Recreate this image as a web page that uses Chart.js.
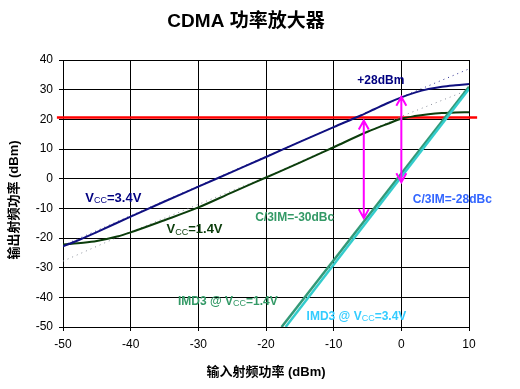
<!DOCTYPE html>
<html>
<head>
<meta charset="utf-8">
<script src="https://cdn.jsdelivr.net/npm/chart.js@4/dist/chart.umd.min.js"></script>
<style>
html,body{margin:0;padding:0;background:#fff;}
#c{display:block;}
</style>
</head>
<body>
<canvas id="c" width="520" height="389"></canvas>
<script>
// ---- data ----
const titleText = 'CDMA 功率放大器';
const xTitle = '输入射频功率 (dBm)';
const yTitle = '输出射频功率 (dBm)';

const pinVcc34 = [-50,-48,-45,-40,-35,-30,-25,-20,-15,-10,-6,-4,-2,0,2,4,6,8,10];
const poutVcc34 = [-22.8,-21.0,-18.0,-12.8,-7.7,-2.7,2.3,7.3,12.4,17.4,21.3,23.4,25.5,27.4,29.0,30.2,31.0,31.5,31.9];

const pinVcc14 = [-50,-47,-45,-42,-40,-35,-30,-25,-20,-15,-10,-5,-2,0,2,4,6,8,10];
const poutVcc14 = [-22.2,-21.6,-21.0,-19.5,-18.1,-14.0,-9.7,-4.6,0.4,5.4,10.6,15.8,18.5,20.2,21.1,21.7,22.1,22.3,22.4];

const pinLin34 = [-50,0,10];
const poutLin34 = [-22.5,27.5,37.0];

const pinLin14 = [-50,-42,-20,0,10];
const poutLin14 = [-27.8,-19.8,0.6,21.0,30.0];

const pinImd14 = [-17.7,10];
const imd14 = [-50,31.0];

const pinImd34 = [-17.1,10];
const imd34 = [-50,30.2];

const limitX = [-50.9,11.2];
const limitY = [20.6,20.6];

const arrowX = [-5.55,0];
const arrowTop = [19.6,27.6];
const arrowBottom = [-13.3,-1.2];

const xMin = -50, xMax = 10, xStep = 10;
const yMin = -50, yMax = 40, yStep = 5;

function pts(xs, ys){ return xs.map((x,i)=>({x:x,y:ys[i]})); }

const LATIN = "'Liberation Sans', Arial, 'Noto Sans CJK SC', sans-serif";

const annot = {
  id:'annot',
  afterDatasetsDraw(chart){
    const ctx = chart.ctx, xs = chart.scales.x, ys = chart.scales.y;
    const X = v => xs.getPixelForValue(v), Y = v => ys.getPixelForValue(v);
    ctx.save();
    // arrows
    ctx.strokeStyle = '#ff00ff';
    ctx.lineWidth = 2;
    arrowX.forEach((ax,i)=>{
      const px = X(ax), t = Y(arrowTop[i]), b = Y(arrowBottom[i]);
      ctx.beginPath();
      ctx.moveTo(px,t); ctx.lineTo(px,b);
      ctx.moveTo(px-5,t+9); ctx.lineTo(px,t); ctx.lineTo(px+5,t+9);
      ctx.moveTo(px-5,b-9); ctx.lineTo(px,b); ctx.lineTo(px+5,b-9);
      ctx.stroke();
    });
    // labels
    ctx.textBaseline = 'middle';
    ctx.textAlign = 'left';
    function vcc(x, y, pre, post, size, color){
      let px = X(x), py = Y(y);
      ctx.fillStyle = color;
      ctx.font = 'bold '+size+'px '+LATIN;
      ctx.fillText(pre, px, py); px += ctx.measureText(pre).width;
      const sub = Math.round(size*0.72);
      ctx.font = sub+'px '+LATIN;
      ctx.fillText('CC', px, py+size*0.2); px += ctx.measureText('CC').width;
      ctx.font = 'bold '+size+'px '+LATIN;
      ctx.fillText(post, px, py);
    }
    function txt(x, y, s, size, color){
      ctx.fillStyle = color;
      ctx.font = 'bold '+size+'px '+LATIN;
      ctx.fillText(s, X(x), Y(y));
    }
    txt(-6.5, 33.0, '+28dBm', 12, '#000080');
    vcc(-46.7, -6.6, 'V', '=3.4V', 13, '#000080');
    vcc(-34.7, -17.2, 'V', '=1.4V', 13, '#0b3d0b');
    txt(-21.6, -13.0, 'C/3IM=-30dBc', 12, '#339966');
    txt(1.7, -7.2, 'C/3IM=-28dBc', 12, '#3366ff');
    vcc(-33.0, -41.3, 'IMD3 @ V', '=1.4V', 12, '#339966');
    vcc(-14.0, -46.4, 'IMD3 @ V', '=3.4V', 12, '#33ccff');
    ctx.restore();
  },
  afterDraw(chart){
    const ctx = chart.ctx, a = chart.chartArea;
    ctx.save();
    ctx.fillStyle = '#000';
    ctx.textAlign = 'center';
    ctx.textBaseline = 'middle';
    ctx.font = "bold 19px 'Liberation Sans', Arial, 'Noto Sans CJK SC', sans-serif";
    ctx.fillText(titleText, 246, 22);
    ctx.font = "bold 13px 'Liberation Sans', Arial, 'Noto Sans CJK SC', sans-serif";
    ctx.fillText(xTitle, (a.left+a.right)/2, 372);
    ctx.translate(14, 200);
    ctx.rotate(-Math.PI/2);
    ctx.fillText(yTitle, 0, 0);
    ctx.restore();
  }
};

new Chart(document.getElementById('c'), {
  type:'line',
  data:{
    datasets:[
      {data:pts(limitX,limitY), borderColor:'#ff0000', borderWidth:2.5, pointRadius:0, clip:false, order:6},
      {data:pts(pinLin14,poutLin14), borderColor:'#8a8f9a', borderWidth:1, borderDash:[1,4], pointRadius:0, order:5},
      {data:pts(pinLin34,poutLin34), borderColor:'#2a2a90', borderWidth:1, borderDash:[1,4], pointRadius:0, order:5},
      {data:pts(pinVcc14,poutVcc14), borderColor:'#0b3d0b', borderWidth:2, pointRadius:0, cubicInterpolationMode:'monotone', order:3},
      {data:pts(pinVcc34,poutVcc34), borderColor:'#101080', borderWidth:2, pointRadius:0, cubicInterpolationMode:'monotone', order:2},
      {data:pts(pinImd14,imd14), borderColor:'#339977', borderWidth:2.5, pointRadius:0, order:1},
      {data:pts(pinImd34,imd34), borderColor:'#33cccc', borderWidth:2.5, pointRadius:0, order:0}
    ]
  },
  options:{
    responsive:false,
    animation:false,
    devicePixelRatio:1,
    layout:{padding:{left:0,top:60,right:51,bottom:0}},
    plugins:{legend:{display:false}, title:{display:false}, tooltip:{enabled:false}},
    scales:{
      x:{
        type:'linear', min:xMin, max:xMax,
        ticks:{stepSize:xStep, color:'#000', font:{family:LATIN, size:12}, padding:6, maxRotation:0},
        grid:{color:'#000', lineWidth:1, tickLength:4, drawTicks:true},
        border:{color:'#000', width:1},
        afterFit(s){ s.height = 62; }
      },
      y:{
        type:'linear', min:yMin, max:yMax,
        ticks:{stepSize:yStep, color:'#000', font:{family:LATIN, size:12}, padding:6},
        grid:{color:'#000', lineWidth:1, tickLength:4, drawTicks:true},
        border:{color:'#000', width:1},
        afterFit(s){ s.width = 63; }
      }
    }
  },
  plugins:[annot]
});
</script>
</body>
</html>
